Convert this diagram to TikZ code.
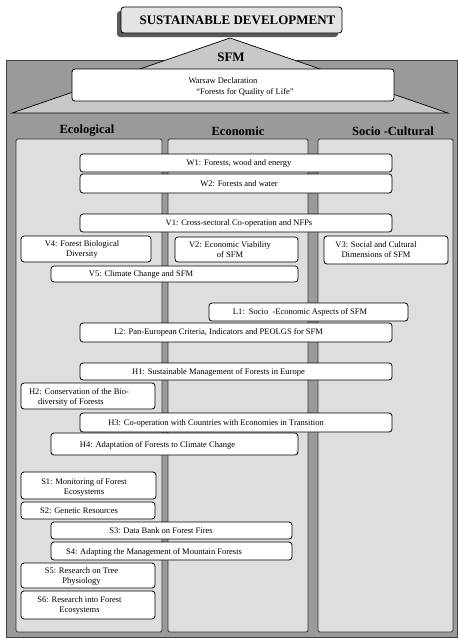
\documentclass[tikz,border=0pt]{standalone}
\usepackage{fontspec}
\setmainfont{Liberation Serif}
\definecolor{outergrey}{HTML}{9A9A9A}
\definecolor{roofgrey}{HTML}{C8C8C8}
\definecolor{colgrey}{HTML}{DEDEDE}
\definecolor{topgrey}{HTML}{E4E4E4}
\definecolor{shadowgrey}{HTML}{5A5A5A}
\tikzset{
  wbox/.style={draw=black, line width=0.8pt, fill=white, rounded corners=3pt},
  colbox/.style={draw=black!80, line width=0.8pt, fill=colgrey, rounded corners=1.5pt},
  txt/.style={font=\fontsize{8.5}{10}\selectfont, inner sep=0pt, align=center},
  head/.style={font=\fontsize{12.5}{14}\selectfont\bfseries, inner sep=0pt},
}
\begin{document}
\begin{tikzpicture}[x=1pt,y=-1pt]
\useasboundingbox (0,0) rectangle (458,638);
% outer house body
\draw[fill=outergrey, draw=black!75, line width=0.8pt] (6,60) rectangle (457.6,637.5);
% roof
\draw[fill=roofgrey, draw=black, line width=0.7pt] (230,38) -- (12,113) -- (448,113) -- cycle;
% top box with shadow
\fill[shadowgrey, rounded corners=3pt] (117,11) rectangle (338,37);
\node[draw=black, line width=0.8pt, fill=topgrey, rounded corners=3pt, minimum width=221pt, minimum height=26pt, inner sep=0pt] (sd) at (231.5,20) {};
\node[head, font=\fontsize{13}{15}\selectfont\bfseries] (sdt) at (237.5,20.5) {SUSTAINABLE DEVELOPMENT};
\node[head, font=\fontsize{13}{15}\selectfont\bfseries] (sfm) at (231,57) {SFM};
% Warsaw declaration
\node[wbox, minimum width=322pt, minimum height=32pt, inner sep=0pt] (wd) at (233,85) {};
\node[txt] (wd1) at (223,81) {Warsaw Declaration};
\node[txt] (wd2) at (245,92.5) {“Forests for Quality of Life”};
% column headers
\node[head] (heco) at (87,131) {Ecological};
\node[head] (hecn) at (238,131) {Economic};
\node[head] (hsoc) at (393,131) {Socio -Cultural};
% columns
\draw[colbox] (16,139) rectangle (162,632);
\draw[colbox] (168,139) rectangle (308,632);
\draw[colbox] (318,139) rectangle (453,632);
% boxes: W
\node[wbox, minimum width=312pt, minimum height=18pt, inner sep=0pt] (w1) at (236,163) {};
\node[txt] (w1t) at (239,163) {W1: Forests, wood and energy};
\node[wbox, minimum width=312pt, minimum height=19pt, inner sep=0pt] (w2) at (236,183.5) {};
\node[txt] (w2t) at (239,183.5) {W2: Forests and water};
% V
\node[wbox, minimum width=312pt, minimum height=18pt, inner sep=0pt] (v1) at (236,223) {};
\node[txt] (v1t) at (239,223) {V1: Cross-sectoral Co-operation and NFPs};
\node[wbox, minimum width=130pt, minimum height=26pt, inner sep=0pt] (v4) at (86,249) {};
\node[txt] (v4t) at (82,249.5) {V4: Forest Biological\\Diversity};
\node[wbox, minimum width=123pt, minimum height=25pt, inner sep=0pt] (v2) at (236.5,249.5) {};
\node[txt] (v2t) at (230,249.5) {V2: Economic Viability\\of SFM};
\node[wbox, minimum width=124pt, minimum height=28pt, inner sep=0pt] (v3) at (386,250) {};
\node[txt] (v3t) at (376,249.5) {V3: Social and Cultural\\Dimensions of SFM};
\node[wbox, minimum width=247pt, minimum height=16pt, inner sep=0pt] (v5) at (174.5,274) {};
\node[txt] (v5t) at (141,274.5) {V5: Climate Change and SFM};
% L
\node[wbox, minimum width=199pt, minimum height=18pt, inner sep=0pt] (l1) at (308.5,312) {};
\node[txt] (l1t) at (300,312.5) {L1:\ \ Socio\ \ -Economic Aspects of SFM};
\node[wbox, minimum width=312pt, minimum height=19pt, inner sep=0pt] (l2) at (236,332.5) {};
\node[txt] (l2t) at (218.5,332) {L2: Pan-European Criteria, Indicators and PEOLGS for SFM};
% H
\node[wbox, minimum width=312pt, minimum height=17pt, inner sep=0pt] (h1) at (236,371.5) {};
\node[txt] (h1t) at (218.5,372) {H1: Sustainable Management of Forests in Europe};
\node[wbox, minimum width=134pt, minimum height=26pt, inner sep=0pt] (h2) at (88,396) {};
\node[txt, align=left] (h2t) at (79,397) {H2: Conservation of the Bio-\\\hspace*{9pt}diversity of Forests};
\node[wbox, minimum width=312pt, minimum height=19pt, inner sep=0pt] (h3) at (236,422.5) {};
\node[txt] (h3t) at (216,423) {H3: Co-operation with Countries with Economies in Transition};
\node[wbox, minimum width=247pt, minimum height=22pt, inner sep=0pt] (h4) at (174.5,444) {};
\node[txt] (h4t) at (157.5,445) {H4: Adaptation of Forests to Climate Change};
% S
\node[wbox, minimum width=135pt, minimum height=27pt, inner sep=0pt] (s1) at (88.5,485.5) {};
\node[txt] (s1t) at (84,487.5) {S1: Monitoring of Forest\\Ecosystems};
\node[wbox, minimum width=134pt, minimum height=17pt, inner sep=0pt] (s2) at (88,510.5) {};
\node[txt] (s2t) at (79,511) {S2: Genetic Resources};
\node[wbox, minimum width=241pt, minimum height=17pt, inner sep=0pt] (s3) at (171.5,530.5) {};
\node[txt] (s3t) at (161,531) {S3: Data Bank on Forest Fires};
\node[wbox, minimum width=241pt, minimum height=18pt, inner sep=0pt] (s4) at (171.5,551) {};
\node[txt] (s4t) at (154,552) {S4: Adapting the Management of Mountain Forests};
\node[wbox, minimum width=134pt, minimum height=25pt, inner sep=0pt] (s5) at (88,575.5) {};
\node[txt] (s5t) at (81.5,576.5) {S5: Research on Tree\\Physiology};
\node[wbox, minimum width=134pt, minimum height=28pt, inner sep=0pt] (s6) at (88,605) {};
\node[txt] (s6t) at (79.5,605.5) {S6: Research into Forest\\Ecosystems};
\end{tikzpicture}
\end{document}
